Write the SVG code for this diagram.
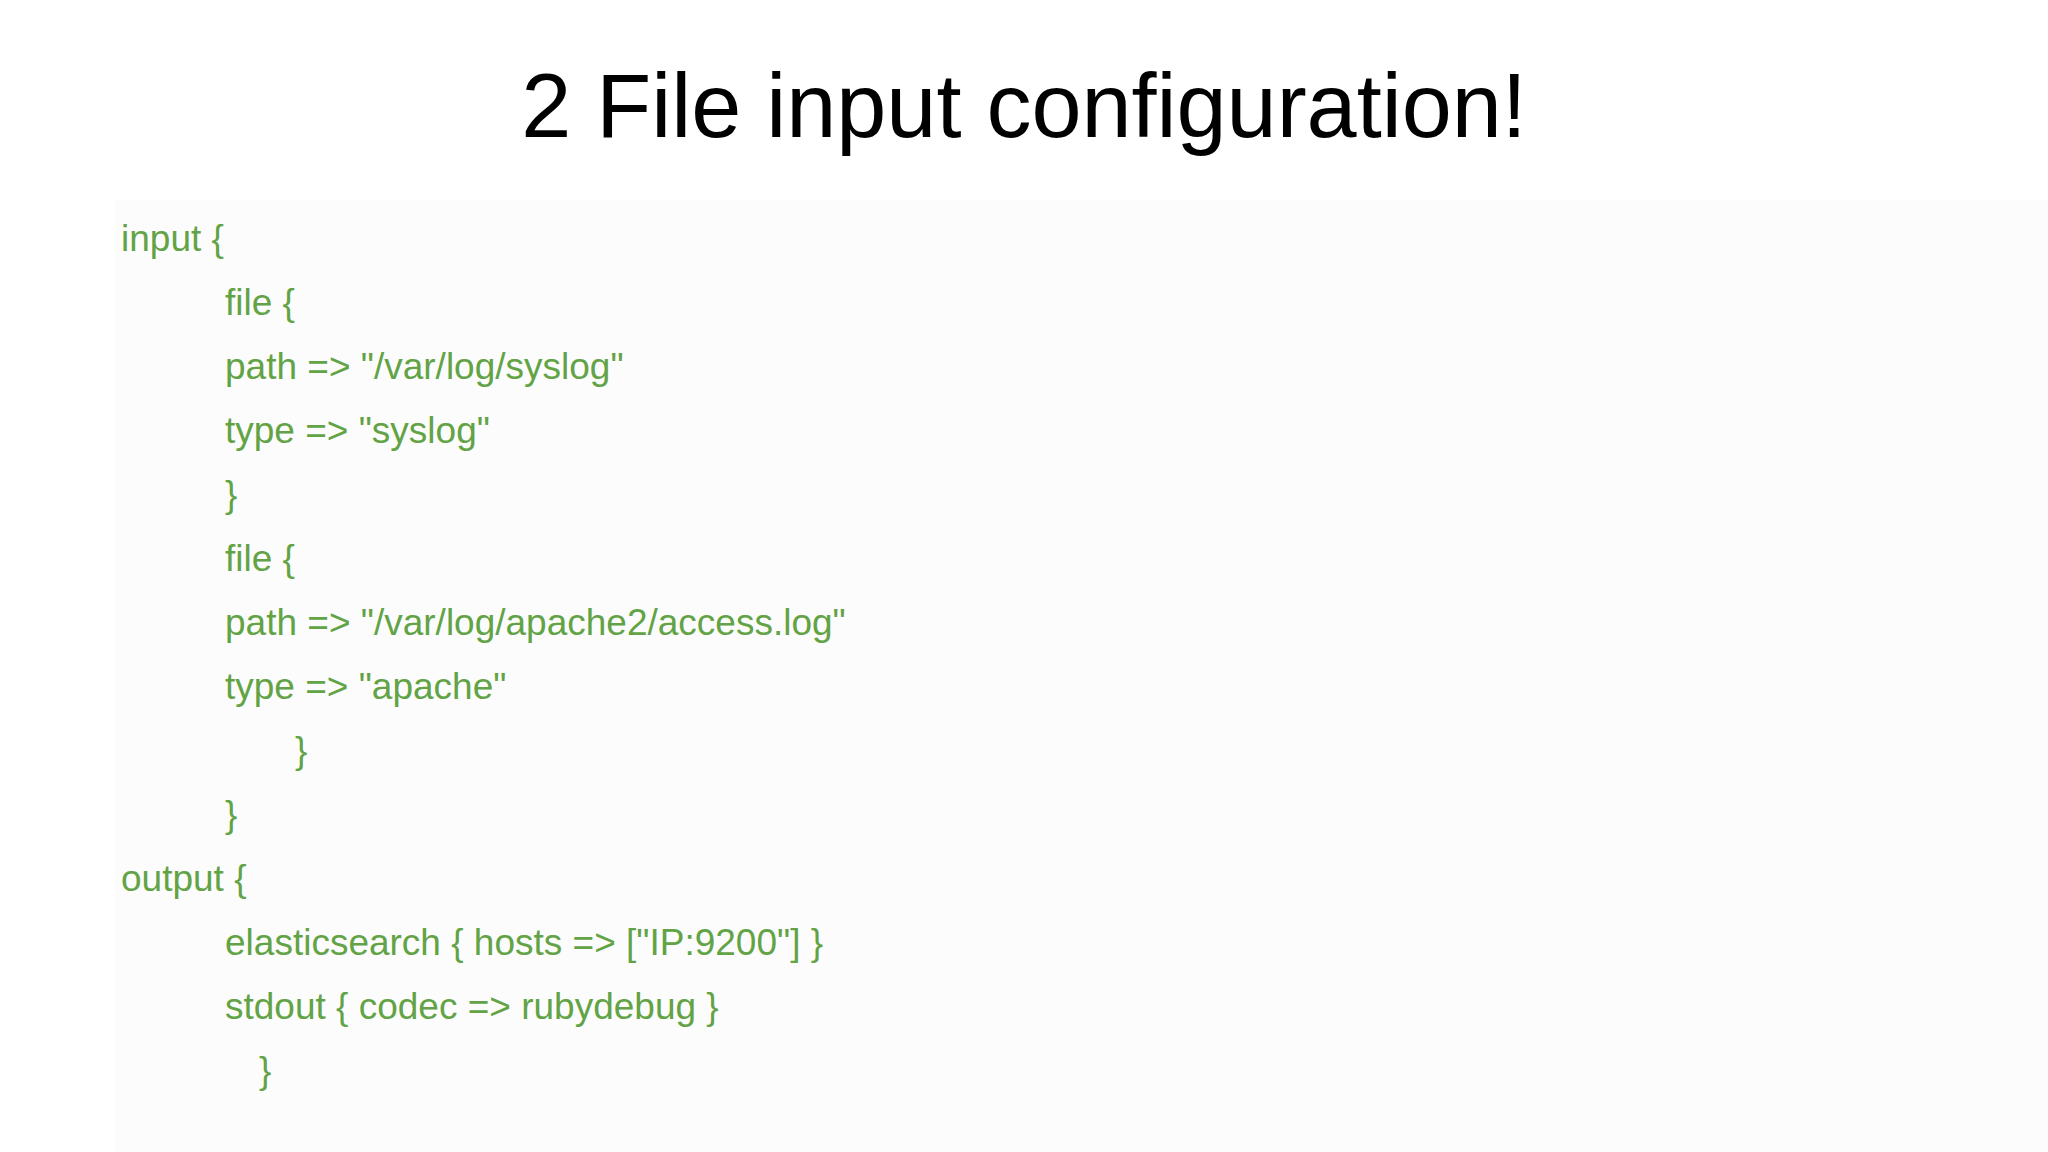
<svg xmlns="http://www.w3.org/2000/svg" width="2048" height="1152" viewBox="0 0 2048 1152">
<style>
.c{font-family:"Liberation Sans","DejaVu Sans",sans-serif;font-size:37px;fill:#62a346}
.t{font-family:"Liberation Sans","DejaVu Sans",sans-serif;font-size:90px;fill:#000}
</style>
<rect width="2048" height="1152" fill="#fff"/>
<rect x="115" y="200" width="1933" height="952" fill="#fcfcfc"/>
<g id="title"><text class="t" x="1024" y="137" text-anchor="middle">2 File input configuration!</text></g>
<g id="code">
<text class="c" x="121" y="251">input {</text>
<text class="c" x="225" y="315">file {</text>
<text class="c" x="225" y="379">path =&gt; "/var/log/syslog"</text>
<text class="c" x="225" y="443">type =&gt; "syslog"</text>
<text class="c" x="225" y="507">}</text>
<text class="c" x="225" y="571">file {</text>
<text class="c" x="225" y="635">path =&gt; "/var/log/apache2/access.log"</text>
<text class="c" x="225" y="699">type =&gt; "apache"</text>
<text class="c" x="295" y="763">}</text>
<text class="c" x="225" y="827">}</text>
<text class="c" x="121" y="891">output {</text>
<text class="c" x="225" y="955">elasticsearch { hosts =&gt; ["IP:9200"] }</text>
<text class="c" x="225" y="1019">stdout { codec =&gt; rubydebug }</text>
<text class="c" x="259" y="1083">}</text>
</g>
</svg>
